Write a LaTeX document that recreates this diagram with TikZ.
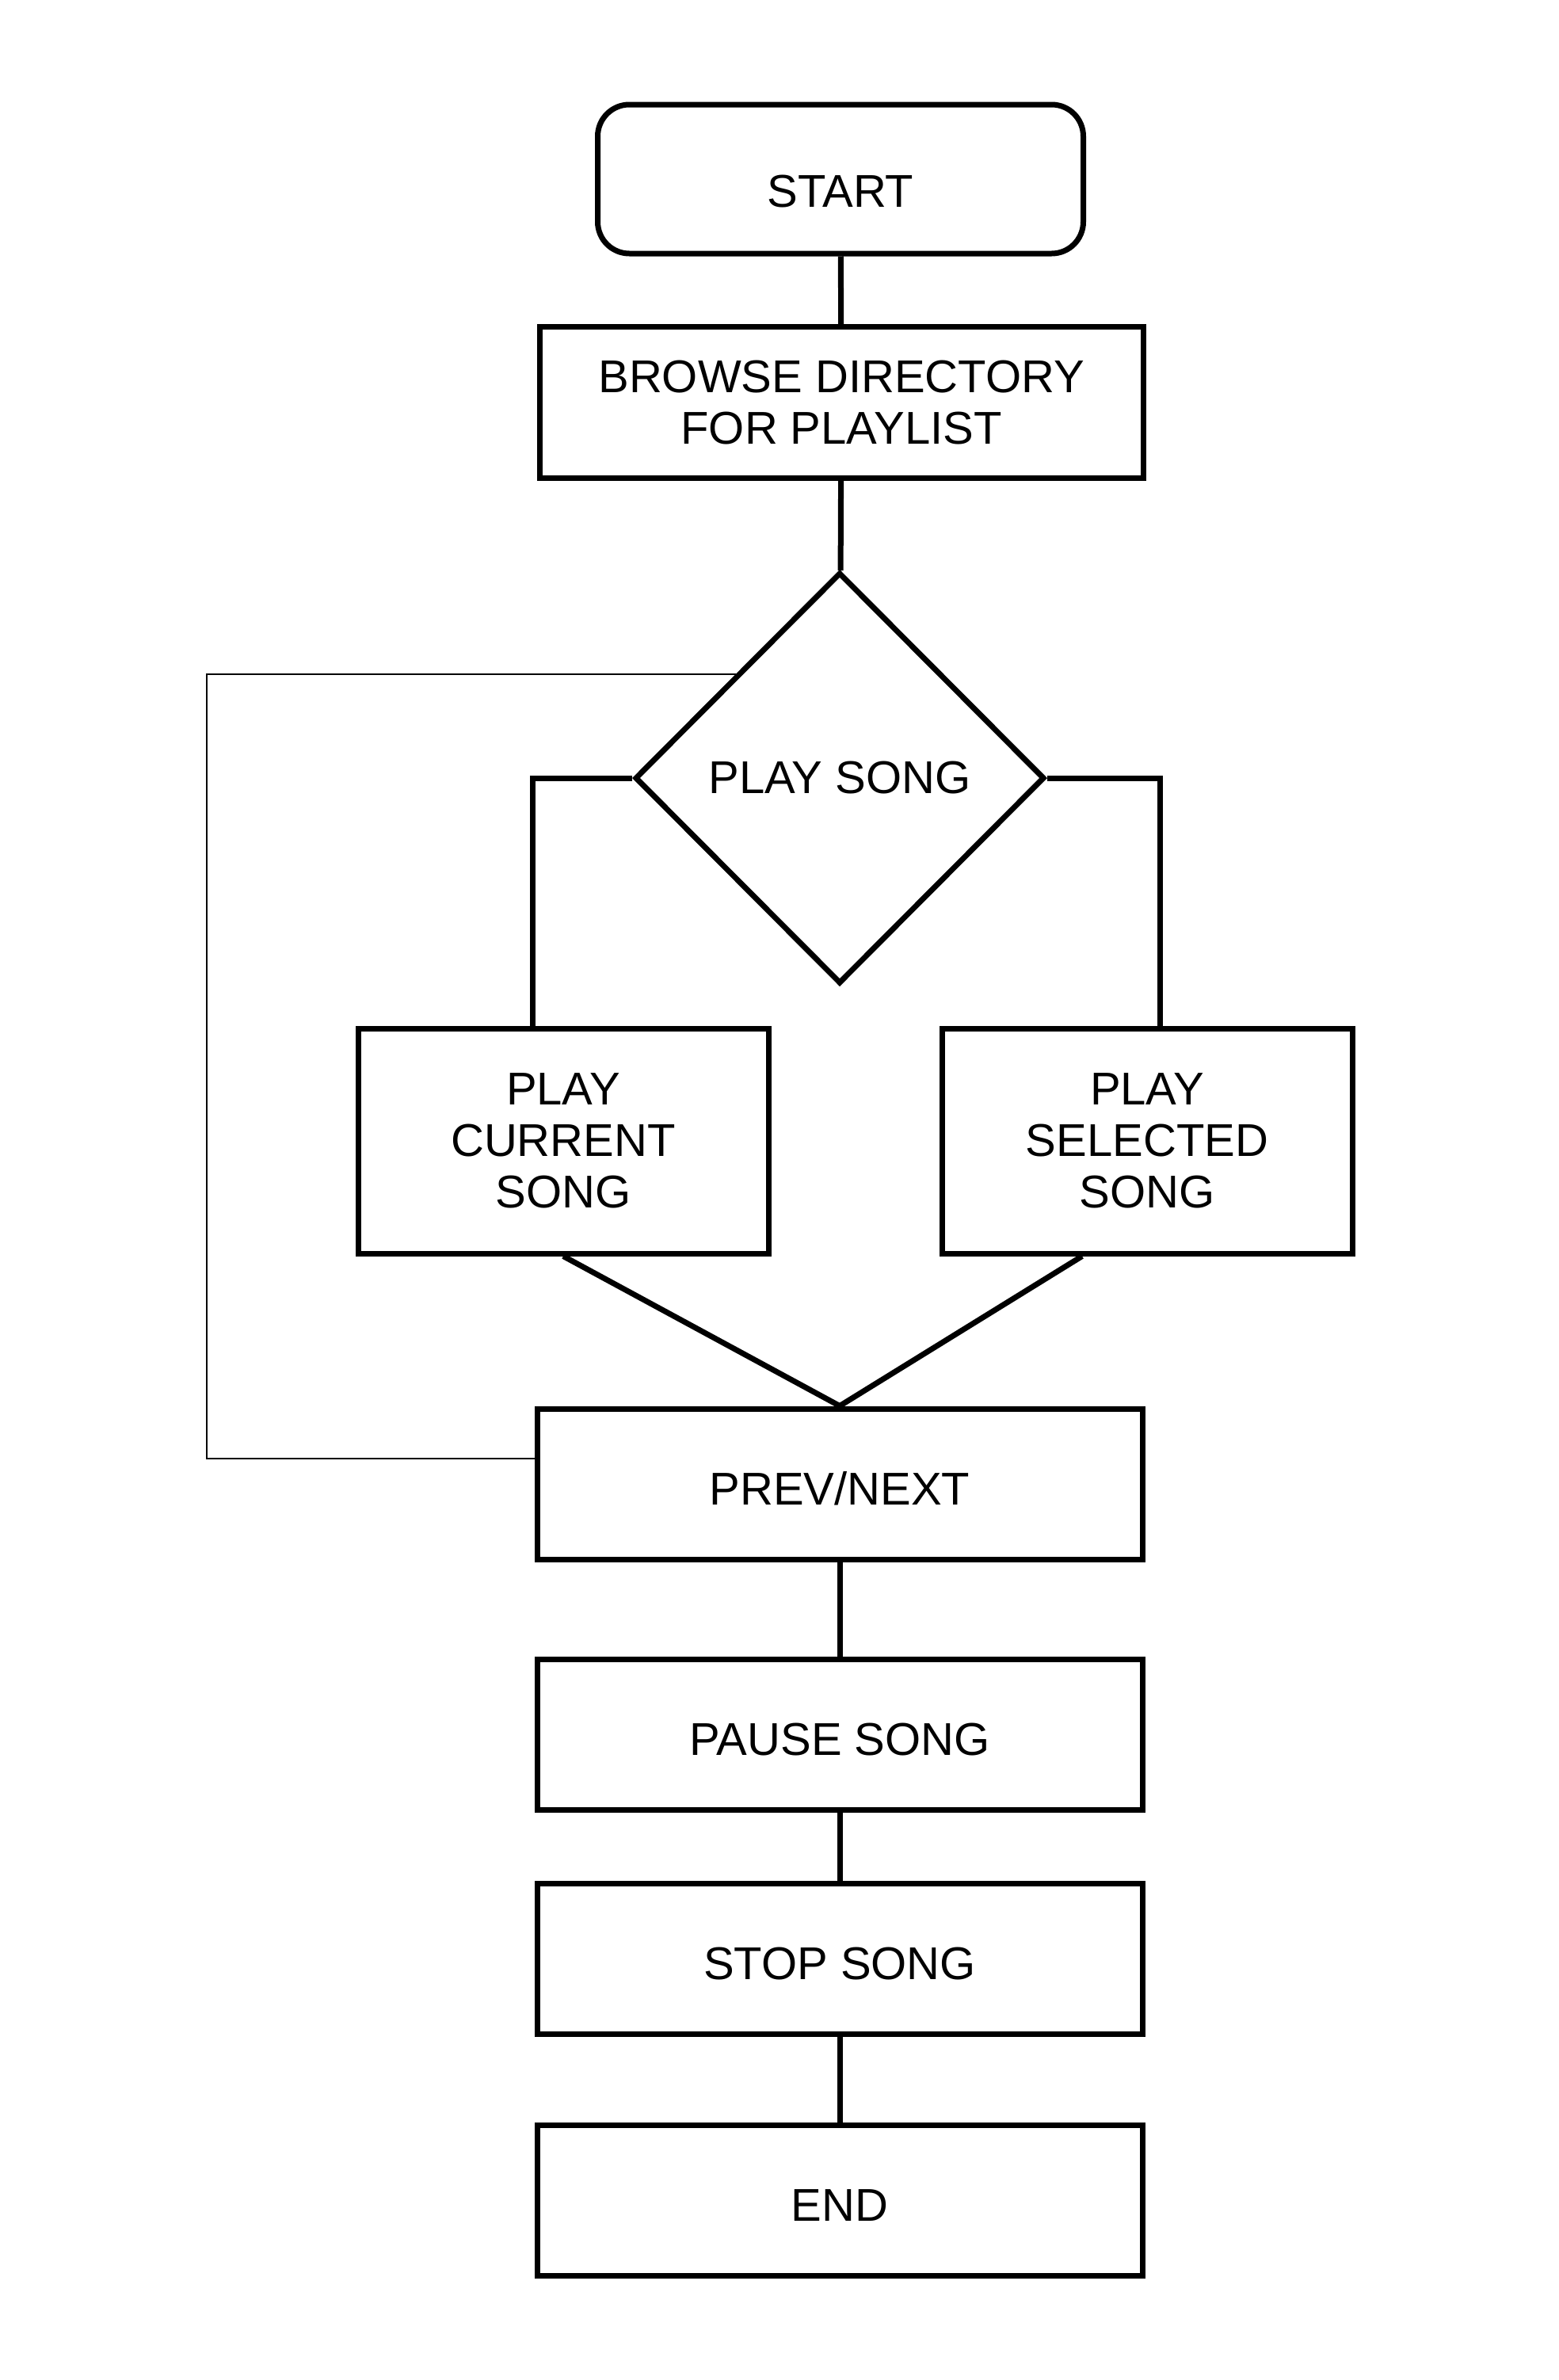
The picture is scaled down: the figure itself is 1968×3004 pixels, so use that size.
\documentclass[tikz,border=0pt]{standalone}
\usepackage{fontspec}
\setmainfont{Liberation Sans}
\usepackage{tikz}
\usetikzlibrary{calc,shapes.geometric}
\tikzset{
node distance=4cm, % not used much, boxes sit at coordinates
boxfont/.style={font=\fontsize{29pt}{32.5pt}\selectfont},
procbox/.style={draw, line width=3.5pt, rectangle, boxfont, align=center, inner sep=0pt, minimum width=382pt, minimum height=95pt},
onelinebox/.style={procbox, text height=26.5pt, text depth=0pt},
startbox/.style={draw, line width=3.5pt, rectangle, rounded corners=20pt, boxfont, inner sep=0pt, minimum width=306.5pt, minimum height=94pt, text height=35.5pt, text depth=0pt},
choice/.style={draw, line width=3.5pt, diamond, boxfont, inner sep=0pt, minimum width=258.5pt, minimum height=259.5pt},
playbox/.style={procbox, minimum width=259pt, minimum height=142pt},
link/.style={line width=3.5pt},
backlink/.style={line width=1pt},
}
\begin{document}
\begin{tikzpicture}[x=0.5pt,y=0.5pt,yscale=-1,xscale=1]
\fill[white] (0,0) rectangle (1968,3004);
\useasboundingbox (0,0) rectangle (1968,3004);
%Rounded Rect
\node [startbox] (start) at (1061,226) {START};
%Rects
\node [procbox, minimum width=381pt, minimum height=95.5pt] (browse) at (1062,508) {BROWSE DIRECTORY\\FOR PLAYLIST};
%Diamond
\node [choice] (play) at (1060,982) {PLAY SONG};
\node [playbox] (cur) at (711,1440) {PLAY\\CURRENT\\SONG};
\node [playbox] (sel) at (1448,1440) {PLAY\\SELECTED\\SONG};
\node [onelinebox] (prev) at (1060,1873) {PREV/NEXT};
\node [onelinebox] (pause) at (1060,2189) {PAUSE SONG};
\node [onelinebox] (stop) at (1060,2472) {STOP SONG};
\node [onelinebox] (finish) at (1060,2777) {END};
%Straight Lines
\draw [link] (start) -- (browse);
\draw [link] (browse) -- (play);
\draw [link] (play.west) -| ($(cur.north)+(-39,0)$);
\draw [link] (play.east) -| ($(sel.north)+(16,0)$);
\draw [link] (cur.south) -- (prev.north);
\draw [link] ($(sel.south)+(-82,0)$) -- (prev.north);
\draw [link] (prev) -- (pause);
\draw [link] (pause) -- (stop);
\draw [link] (stop) -- (finish);
%Back line
\coordinate (loop) at (261,0);
\draw [backlink] ($(prev.west)+(0,-32)$) -| (loop |- play.135) -- (play.135);
\end{tikzpicture}
\end{document}
